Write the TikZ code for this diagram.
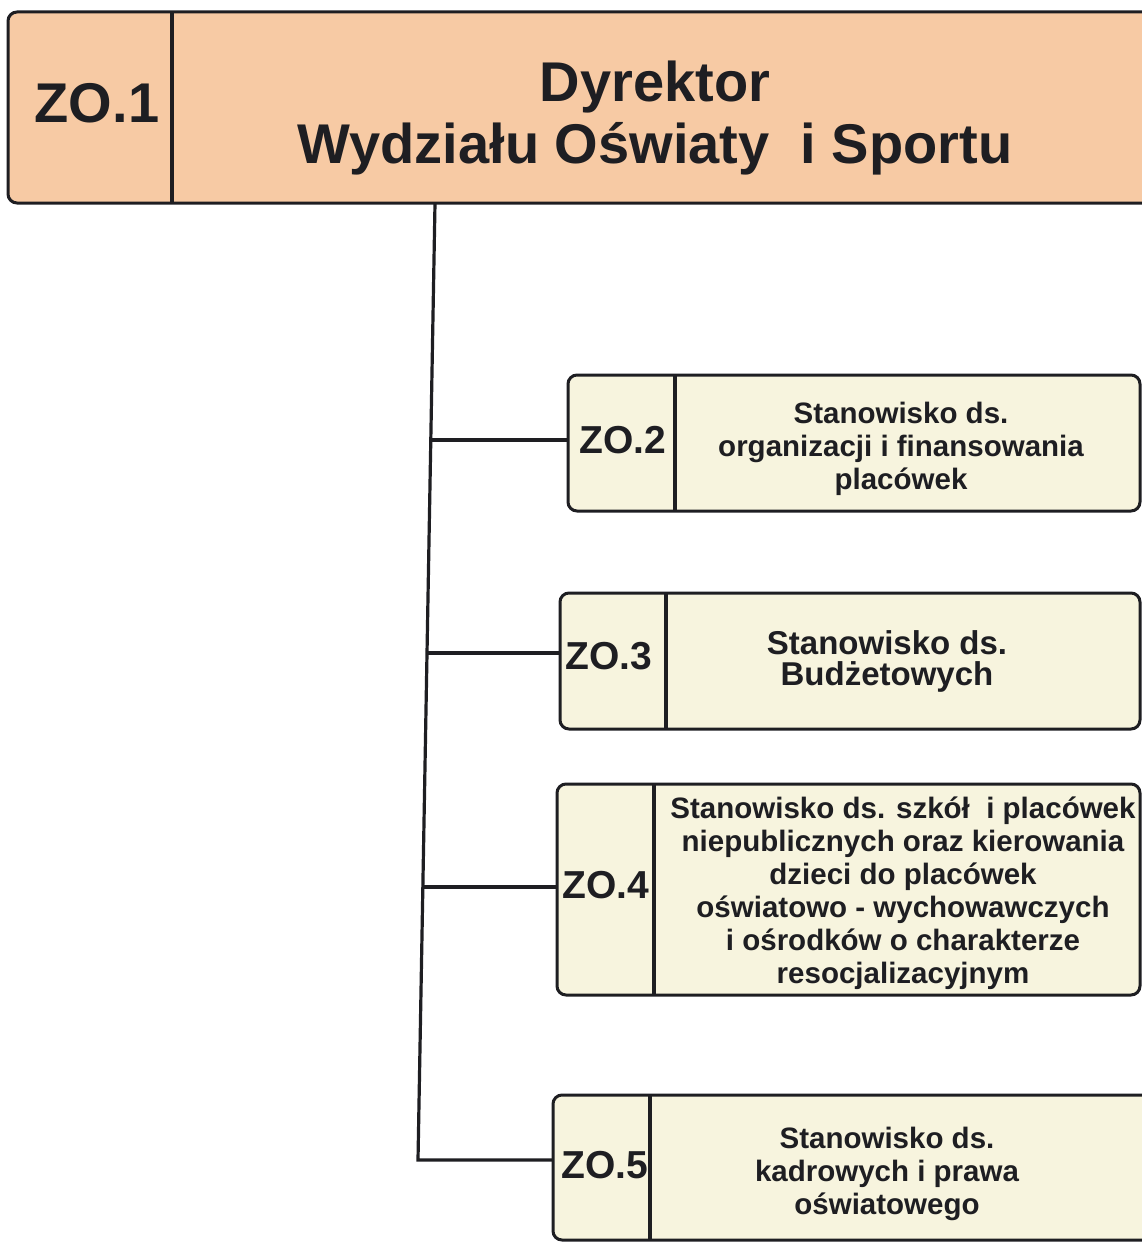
\documentclass[tikz,border=0pt]{standalone}
\usepackage{fontspec}
\setmainfont{Liberation Sans}
\definecolor{peach}{RGB}{247,202,164}
\definecolor{cream}{RGB}{247,244,222}
\definecolor{ink}{RGB}{30,30,34}
\begin{document}
\begin{tikzpicture}[x=1pt,y=-1pt,
  line/.style={draw=ink,line width=3.2pt},
  topbox/.style={draw=ink,line width=3pt,fill=peach,rounded corners=9pt},
  subbox/.style={draw=ink,line width=3pt,fill=cream,rounded corners=9pt},
  bigtxt/.style={text=ink,font=\fontsize{56}{62}\selectfont\bfseries,align=center,inner sep=0pt},
  idtxt/.style={text=ink,font=\fontsize{39}{44}\selectfont\bfseries,inner sep=0pt},
  subtxt/.style={text=ink,font=\fontsize{29.5}{33}\selectfont\bfseries,align=center,inner sep=0pt},
  subtxtbig/.style={text=ink,font=\fontsize{33}{31}\selectfont\bfseries,align=center,inner sep=0pt}]
\useasboundingbox (0,0) rectangle (1142,1244);
\clip (0,0) rectangle (1142,1244);
\fill[white] (0,0) rectangle (1142,1244);
% top box
\path[topbox] (8,12) rectangle (1170,203);
\draw[line] (172,12) -- (172,203);
\node[bigtxt] (zo1) at (97,103) {ZO.1};
\node[bigtxt] (dyr) at (655,118) {Dyrektor\\Wydziału Oświaty\ \ i Sportu};
% ZO.2
\path[subbox] (568,375) rectangle (1140,511);
\draw[line] (675,375) -- (675,511);
\node[idtxt] (zo2) at (623,440) {ZO.2};
\node[subtxt] (t2) at (901,449) {Stanowisko ds.\\organizacji i finansowania\\placówek};
% ZO.3
\path[subbox] (560,593) rectangle (1140,729);
\draw[line] (666,593) -- (666,729);
\node[idtxt] (zo3) at (609,656) {ZO.3};
\node[subtxtbig] (t3) at (887,661) {Stanowisko ds.\\Budżetowych};
% ZO.4
\path[subbox] (557,784) rectangle (1140,995);
\draw[line] (654,784) -- (654,995);
\node[idtxt] (zo4) at (606,885) {ZO.4};
\node[subtxt] (t4) at (903,893) {Stanowisko ds. szkół\ \ i placówek\\niepublicznych oraz kierowania\\dzieci do placówek\\oświatowo - wychowawczych\\i ośrodków o charakterze\\resocjalizacyjnym};
% ZO.5
\path[subbox] (553,1095) rectangle (1170,1240);
\draw[line] (650,1095) -- (650,1240);
\node[idtxt] (zo5) at (605,1165) {ZO.5};
\node[subtxt] (t5) at (887,1174) {Stanowisko ds.\\kadrowych i prawa\\oświatowego};
% connectors
\coordinate (b2) at (568,440);
\coordinate (b3) at (560,653);
\coordinate (b4) at (557,887);
\coordinate (b5) at (553,1160);
\coordinate (top) at (435,203);
\coordinate (j2) at (431,440);
\coordinate (j3) at (427,653);
\coordinate (j4) at (423,887);
\coordinate (j5) at (418,1160);
\draw[line] (top) -- (j5) -- (b5);
\draw[line] (j2) -- (b2);
\draw[line] (j3) -- (b3);
\draw[line] (j4) -- (b4);
\end{tikzpicture}
\end{document}
